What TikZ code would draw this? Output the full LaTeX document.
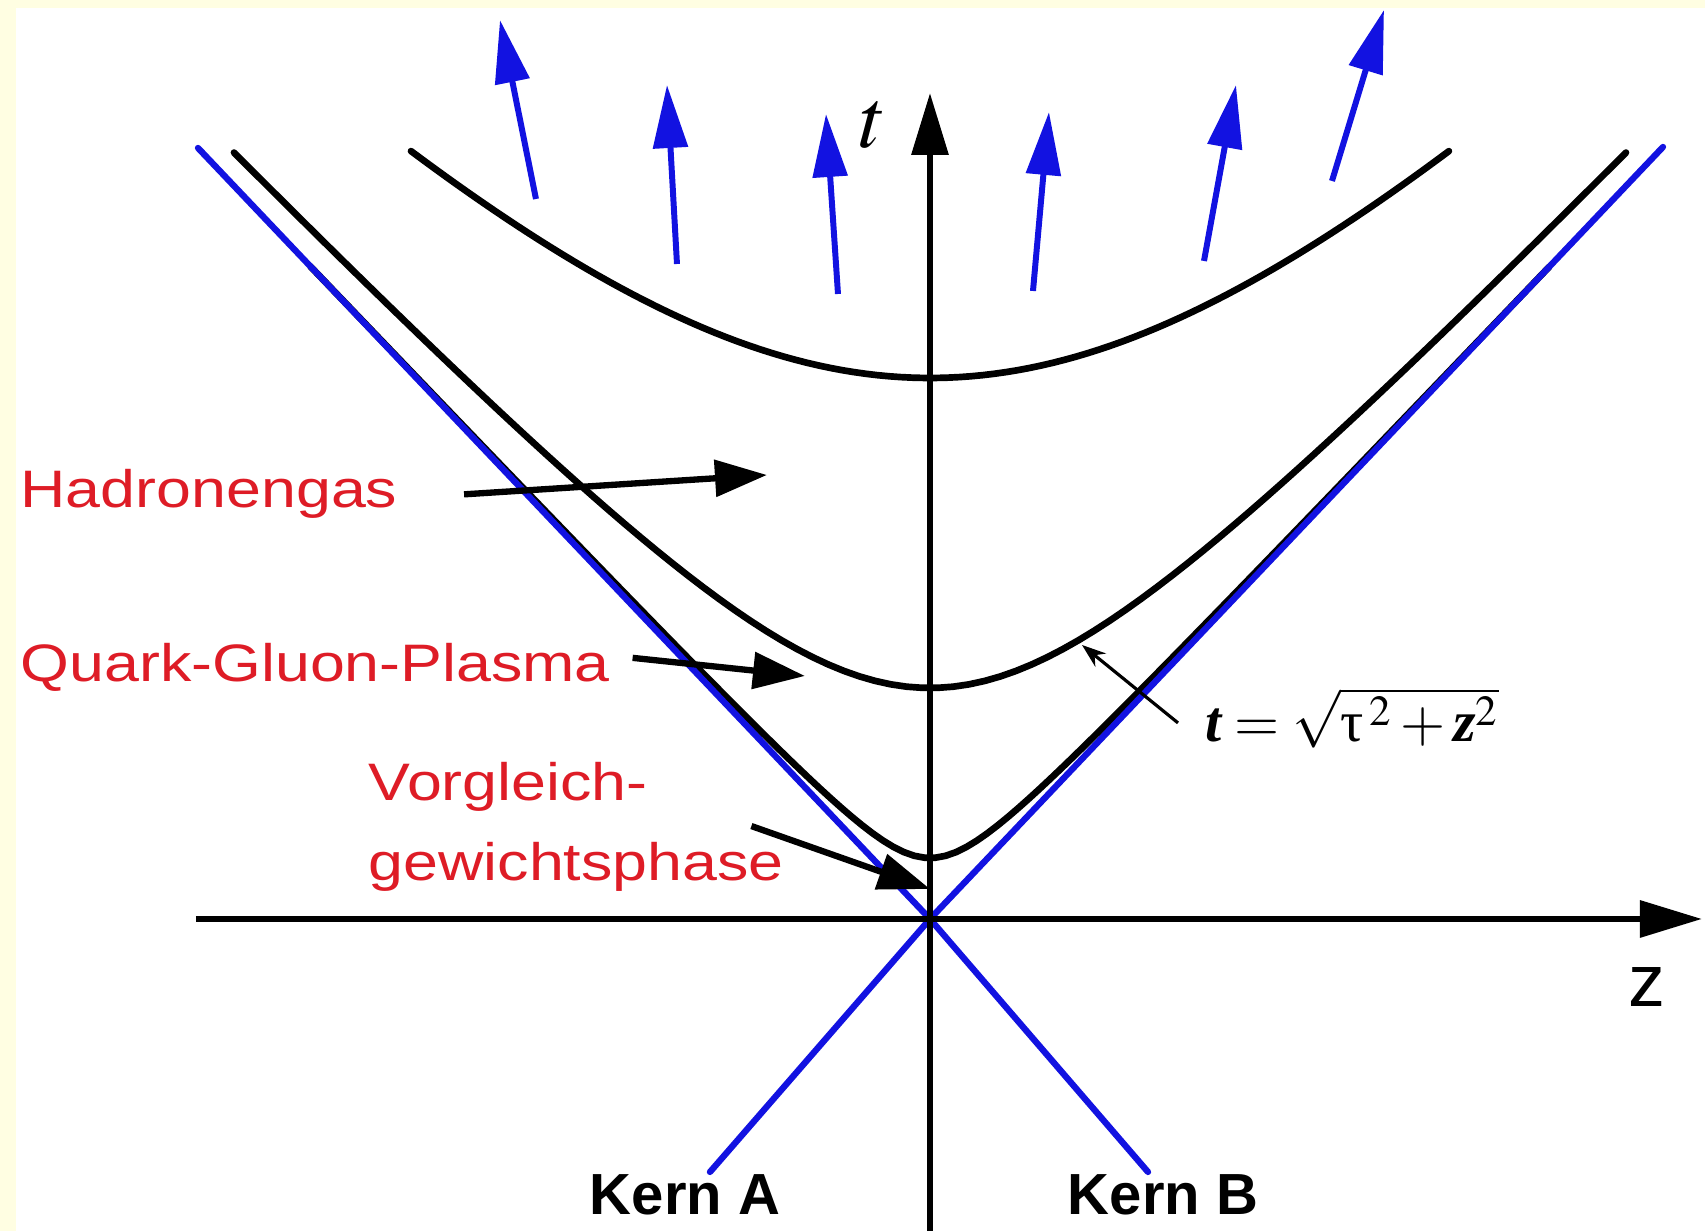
\documentclass[tikz,border=0pt]{standalone}
\usepackage{mathptmx}
\usepackage[no-math]{fontspec}
\setmainfont{Liberation Serif}
\newfontfamily\phasefont[FakeStretch=1.19]{Liberation Sans}
\newfontfamily\axisfont{Liberation Sans}
\usetikzlibrary{arrows.meta,positioning}
\definecolor{coneBlue}{RGB}{18,18,225}
\definecolor{phaseRed}{RGB}{222,28,38}
\definecolor{paperYellow}{RGB}{255,254,226}

\begin{document}
\begin{tikzpicture}[
    axis/.style={line width=1.8pt, -{Triangle[length=0.62cm,width=0.36cm]}},
    cone/.style={coneBlue, line width=1.8pt, line cap=round},
    hyper/.style={line width=1.9pt, line cap=round},
    flow/.style={coneBlue, line width=1.7pt, -{Triangle[length=0.63cm,width=0.34cm]}},
    phase/.style={phaseRed, font=\phasefont\fontsize{15}{22.7}\selectfont, inner sep=0pt, anchor=base west},
    pointer/.style={line width=1.8pt, -{Triangle[length=0.52cm,width=0.36cm]}},
    nucleus/.style={font=\axisfont\bfseries\fontsize{16.5}{20}\selectfont, inner sep=0pt, anchor=base}]
  % Frame
  \useasboundingbox (-9.30,-3.12) rectangle (7.75,9.19);
  \fill[paperYellow] (-9.30,-3.12) rectangle (7.75,9.19);
  \fill[white] (-9.14,-3.12) rectangle (7.75,9.11);
  % Points
  \coordinate (O) at (0,0);
  \coordinate (tbot) at (0,-3.15);
  \coordinate (ttop) at (0,8.26);
  \coordinate (zleft) at (-7.34,0);
  \coordinate (zright) at (7.72,0);
  \coordinate (pathBstart) at (2.18,-2.53);
  \coordinate (pathBend) at (-7.32,7.71);
  \coordinate (pathAstart) at (-2.20,-2.53);
  \coordinate (pathAend) at (7.33,7.72);
  % Inner hyperbola (runs into the light cone)
  \draw[hyper, line cap=butt] plot[domain=-6.2:6.2, samples=120] (\x,{sqrt(0.61*0.61+1.0486*1.0486*\x*\x)});
  % Light cone
  \draw[cone] (pathBstart) -- (O) -- (pathBend);
  \draw[cone] (pathAstart) -- (O) -- (pathAend);
  % Outer hyperbolas
  \draw[hyper] plot[domain=-6.96:6.96, samples=90] (\x,{sqrt(2.31*2.31+1.05*1.05*\x*\x)});
  \draw[hyper] plot[domain=-5.19:5.19, samples=90] (\x,{sqrt(5.41*5.41+1.05*1.05*\x*\x)});
  % Axes
  \draw[axis] (tbot) -- (ttop);
  \draw[axis] (zleft) -- (zright);
  \node[font=\fontsize{24}{28}\selectfont, inner sep=0pt] (tlabel) at (-0.57,7.94) {$t$};
  \node[font=\axisfont\fontsize{21}{24}\selectfont, inner sep=0pt] (zlabel) at (7.17,-0.68) {z};
  % Emitted hadrons
  \foreach \tx/\ty/\hx/\hy in {-3.94/7.20/-4.30/8.99, -2.53/6.55/-2.63/8.34,
      -0.92/6.25/-1.04/8.05, 1.03/6.28/1.19/8.07, 2.74/6.58/3.06/8.34, 4.02/7.38/4.54/9.09}
    \draw[flow] (\tx,\ty) -- (\hx,\hy);
  % Nuclei
  \node[nucleus] (kernA) at (-2.45,-2.96) {Kern A};
  \node[nucleus] (kernB) at (2.33,-2.96) {Kern B};
  % Phases
  \node[phase] (hadron) at (-9.10,4.11) {Hadronengas};
  \node[phase] (qgplabel) at (-9.10,2.37) {Quark-Gluon-Plasma};
  \node[phase] (preeqA) at (-5.62,1.18) {Vorgleich-};
  \node[phase] (preeqB) at (-5.62,0.38) {gewichtsphase};
  \coordinate (hgas) at (-1.63,4.44);
  \coordinate (qgp) at (-1.25,2.43);
  \coordinate (preeq) at (0.0,0.30);
  \draw[pointer] ([xshift=6.6mm]hadron.east) -- (hgas);
  \draw[pointer] ([shift={(0.22,0.1)}]qgplabel.east) -- (qgp);
  \draw[pointer] ([shift={(-0.33,0.16)}]preeqB.north east) -- (preeq);
  % Proper time
  \node[font=\fontsize{16.5}{20}\selectfont, inner sep=0pt, anchor=base west] (formula) at (2.75,1.77)
    {$\mbox{\bfseries\itshape t} = \sqrt{\mbox{τ}^{\,2} + \mbox{\bfseries\itshape z}^{2}}$};
  \coordinate (curvept) at (1.52,2.74);
  \draw[line width=0.9pt, -{Stealth[length=0.24cm,width=0.17cm]}] ([shift={(-0.27,-0.05)}]formula.west) -- (curvept);
\end{tikzpicture}
\end{document}
